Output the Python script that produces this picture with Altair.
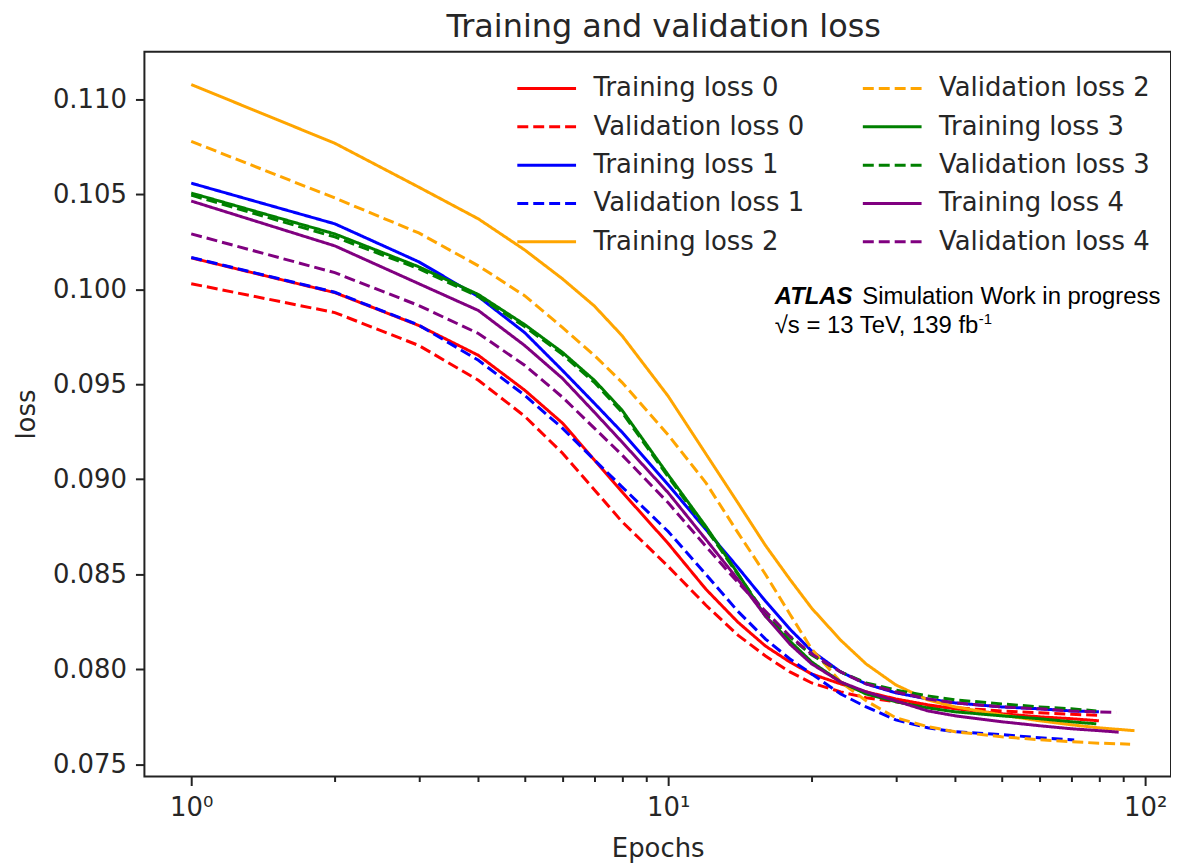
import altair as alt
import pandas as pd

# ---------------- data ----------------
EPOCHS = [1, 2, 3, 4, 5, 6, 7, 8, 10, 12, 14, 16, 18, 20, 23, 26, 30, 35, 40, 50, 60, 70]

train0 = [0.10165, 0.09982, 0.09809, 0.09652, 0.09469, 0.09296, 0.09102, 0.08934, 0.08662, 0.08421, 0.08248,
          0.08122, 0.08038, 0.07975, 0.07923, 0.07881, 0.07844, 0.07813, 0.07792, 0.07766, 0.07750, 0.07740]
valid0 = [0.10029, 0.09877, 0.09704, 0.09521, 0.09332, 0.09138, 0.08945, 0.08777, 0.08541, 0.08337, 0.08180,
          0.08070, 0.07986, 0.07928, 0.07881, 0.07850, 0.07829, 0.07808, 0.07797, 0.07781, 0.07771, 0.07763]
train1 = [0.10558, 0.10344, 0.10144, 0.09961, 0.09772, 0.09573, 0.09400, 0.09248, 0.08971, 0.08735, 0.08536,
          0.08358, 0.08211, 0.08096, 0.07986, 0.07923, 0.07876, 0.07844, 0.07823, 0.07802, 0.07792, 0.07781]
valid1 = [0.10167, 0.09984, 0.09811, 0.09626, 0.09442, 0.09269, 0.09102, 0.08960, 0.08725, 0.08499, 0.08305,
          0.08159, 0.08054, 0.07975, 0.07870, 0.07802, 0.07734, 0.07692, 0.07671, 0.07656, 0.07640, 0.07629]
train2 = [0.11077, 0.10768, 0.10537, 0.10370, 0.10207, 0.10055, 0.09912, 0.09756, 0.09437, 0.09133, 0.08876,
          0.08651, 0.08473, 0.08321, 0.08153, 0.08028, 0.07918, 0.07839, 0.07802, 0.07760, 0.07729, 0.07708]
valid2 = [0.10778, 0.10480, 0.10296, 0.10123, 0.09966, 0.09799, 0.09652, 0.09510, 0.09233, 0.08981, 0.08719,
          0.08499, 0.08290, 0.08106, 0.07933, 0.07834, 0.07745, 0.07698, 0.07671, 0.07645, 0.07629, 0.07619]
train3 = [0.10506, 0.10291, 0.10118, 0.09972, 0.09814, 0.09668, 0.09521, 0.09364, 0.09023, 0.08751, 0.08504,
          0.08279, 0.08148, 0.08038, 0.07933, 0.07870, 0.07829, 0.07797, 0.07776, 0.07755, 0.07740, 0.07724]
valid3 = [0.10495, 0.10275, 0.10108, 0.09961, 0.09804, 0.09657, 0.09510, 0.09353, 0.09013, 0.08740, 0.08499,
          0.08290, 0.08169, 0.08075, 0.07986, 0.07928, 0.07891, 0.07860, 0.07839, 0.07818, 0.07802, 0.07792]
train4 = [0.10464, 0.10228, 0.10029, 0.09888, 0.09704, 0.09531, 0.09353, 0.09196, 0.08929, 0.08683, 0.08473,
          0.08279, 0.08132, 0.08028, 0.07933, 0.07881, 0.07834, 0.07781, 0.07755, 0.07724, 0.07703, 0.07687]
valid4 = [0.10291, 0.10087, 0.09914, 0.09767, 0.09600, 0.09432, 0.09269, 0.09128, 0.08876, 0.08646, 0.08457,
          0.08305, 0.08174, 0.08080, 0.07986, 0.07923, 0.07881, 0.07844, 0.07823, 0.07802, 0.07792, 0.07781]

# last epochs of each run (runs stop at different epochs)
tail_epochs = {
    "Training loss 0": [80], "Validation loss 0": [80],
    "Training loss 1": [80], "Validation loss 1": [71],
    "Training loss 2": [80, 95], "Validation loss 2": [80, 93],
    "Training loss 3": [79], "Validation loss 3": [79],
    "Training loss 4": [80, 88], "Validation loss 4": [80, 87],
}
tail_values = {
    "Training loss 0": [0.07729], "Validation loss 0": [0.07758],
    "Training loss 1": [0.07776], "Validation loss 1": [0.07628],
    "Training loss 2": [0.07692, 0.07677], "Validation loss 2": [0.07611, 0.07606],
    "Training loss 3": [0.07713], "Validation loss 3": [0.07781],
    "Training loss 4": [0.07677, 0.07669], "Validation loss 4": [0.07776, 0.07773],
}

SERIES = ["Training loss 0", "Validation loss 0", "Training loss 1", "Validation loss 1",
          "Training loss 2", "Validation loss 2", "Training loss 3", "Validation loss 3",
          "Training loss 4", "Validation loss 4"]
SERIES_VALUES = [train0, valid0, train1, valid1, train2, valid2, train3, valid3, train4, valid4]
COLOR_OF = {"0": "red", "1": "blue", "2": "orange", "3": "green", "4": "purple"}

rows = []
for name, vals in zip(SERIES, SERIES_VALUES):
    es = EPOCHS + tail_epochs[name]
    vs = vals + tail_values[name]
    for e, v in zip(es, vs):
        rows.append({"series": name, "epoch": e, "loss": v})
df = pd.DataFrame(rows)

colors = [COLOR_OF[s[-1]] for s in SERIES]
dashes = [[1, 0] if s.startswith("Training") else [11, 5] for s in SERIES]

TXT = "#262626"
FONT = "DejaVu Sans"

legend = alt.Legend(
    title=None, orient="none", legendX=373, legendY=23, columns=2,
    symbolType="stroke", symbolSize=3481, symbolStrokeWidth=3,
    labelFont=FONT, labelFontSize=26, labelColor=TXT, labelOffset=16, labelLimit=400,
    clipHeight=28, rowPadding=10.5, columnPadding=57, padding=0,
)

major_test = "datum.value == 1 || datum.value == 10 || datum.value == 100"

lines = alt.Chart(df).mark_line(strokeWidth=3).encode(
    x=alt.X("epoch:Q",
            scale=alt.Scale(type="log", domain=[0.7977, 113.3], nice=False),
            axis=alt.Axis(
                title="Epochs",
                values=[1, 2, 3, 4, 5, 6, 7, 8, 9, 10, 20, 30, 40, 50, 60, 70, 80, 90, 100],
                labelExpr="datum.value == 1 ? '10⁰' : datum.value == 10 ? '10¹' : datum.value == 100 ? '10²' : ''",
                tickSize={"condition": {"test": major_test, "value": 9}, "value": 5},
                labelPadding=9, titlePadding=15, labelFlush=False, labelOverlap=False,
                grid=False, domain=False)),
    y=alt.Y("loss:Q",
            scale=alt.Scale(domain=[0.074356, 0.1125], nice=False, zero=False),
            axis=alt.Axis(
                title="loss",
                values=[0.075, 0.080, 0.085, 0.090, 0.095, 0.100, 0.105, 0.110],
                format=".3f", tickSize=9, labelPadding=9, titlePadding=13,
                labelFlush=False, grid=False, domain=False)),
    color=alt.Color("series:N", scale=alt.Scale(domain=SERIES, range=colors), legend=legend),
    strokeDash=alt.StrokeDash("series:N", scale=alt.Scale(domain=SERIES, range=dashes), legend=legend),
    detail="series:N",
)

one = pd.DataFrame({"k": [0]})
atlas = alt.Chart(one).mark_text(
    text="ATLAS", font="Liberation Sans", fontSize=24, fontWeight="bold", fontStyle="italic",
    align="left", baseline="alphabetic", color="black",
).encode(x=alt.value(633), y=alt.value(253))
sim = alt.Chart(one).mark_text(
    text="Simulation Work in progress", font="Liberation Sans", fontSize=24,
    align="left", baseline="alphabetic", color="black",
).encode(x=alt.value(721), y=alt.value(253))
energy = alt.Chart(one).mark_text(
    text="√s = 13 TeV, 139 fb", font="Liberation Sans", fontSize=24,
    align="left", baseline="alphabetic", color="black",
).encode(x=alt.value(633), y=alt.value(283))
sup = alt.Chart(one).mark_text(
    text="-1", font="Liberation Sans", fontSize=15,
    align="left", baseline="alphabetic", color="black",
).encode(x=alt.value(838), y=alt.value(274))

chart = alt.layer(lines, atlas, sim, energy, sup).properties(
    width=1031, height=728,
    title=alt.Title("Training and validation loss", font=FONT, fontSize=32, fontWeight="normal",
                    color=TXT, offset=8, dx=6),
    autosize=alt.AutoSizeParams(type="none"),
    padding={"left": 137, "top": 42, "right": 0, "bottom": 86},
).configure_view(
    stroke="#222222", strokeWidth=2,
).configure_axis(
    labelFont=FONT, titleFont=FONT, labelFontSize=26, titleFontSize=26,
    labelColor=TXT, titleColor=TXT, titleFontWeight="normal",
    tickColor="#222222", tickWidth=2,
)

chart.save("out.html", embed_options={"renderer": "svg", "actions": False})
